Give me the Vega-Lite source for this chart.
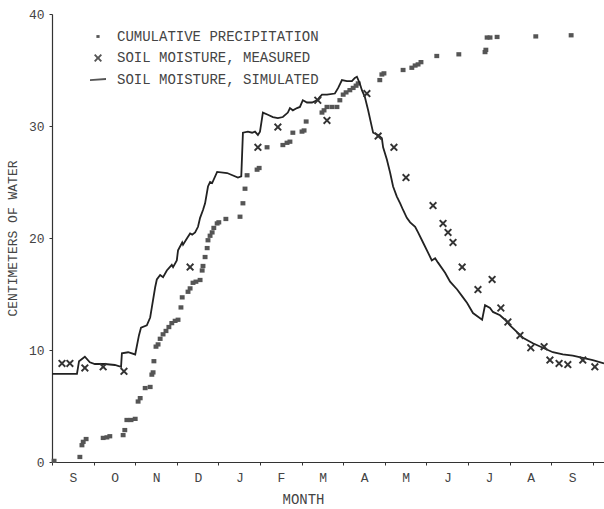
{
  "$schema": "https://vega.github.io/schema/vega-lite/v6.json",
  "width": 552,
  "height": 448,
  "autosize": {"type": "none"},
  "padding": {"left": 52, "top": 14, "right": 0, "bottom": 47},
  "background": "white",
  "config": {
    "view": {"stroke": null},
    "font": "Liberation Mono",
    "axis": {"labelFont": "Liberation Mono", "titleFont": "Liberation Mono", "labelColor": "#444", "titleColor": "#444", "titleFontWeight": "normal", "domainColor": "#333", "tickColor": "#333", "grid": false},
    "legend": {"labelFont": "Liberation Mono"}
  },
  "datasets": {
    "precip": [
      {"month": 0.05, "cm": 0.1}, {"month": 0.67, "cm": 0.45}, {"month": 0.72, "cm": 1.5}, {"month": 0.75, "cm": 1.8}, {"month": 0.82, "cm": 2.05},
      {"month": 1.23, "cm": 2.15}, {"month": 1.32, "cm": 2.2}, {"month": 1.39, "cm": 2.3}, {"month": 1.71, "cm": 2.4}, {"month": 1.75, "cm": 2.85},
      {"month": 1.8, "cm": 3.75}, {"month": 1.9, "cm": 3.75}, {"month": 2.0, "cm": 3.85}, {"month": 2.07, "cm": 5.4}, {"month": 2.12, "cm": 5.7},
      {"month": 2.24, "cm": 6.6}, {"month": 2.36, "cm": 6.7}, {"month": 2.4, "cm": 7.8}, {"month": 2.43, "cm": 8.0}, {"month": 2.45, "cm": 9.0},
      {"month": 2.5, "cm": 10.3}, {"month": 2.55, "cm": 10.5}, {"month": 2.6, "cm": 11.0}, {"month": 2.67, "cm": 11.4}, {"month": 2.74, "cm": 11.7},
      {"month": 2.81, "cm": 12.05}, {"month": 2.88, "cm": 12.4}, {"month": 2.96, "cm": 12.6}, {"month": 3.03, "cm": 12.7}, {"month": 3.1, "cm": 13.8},
      {"month": 3.13, "cm": 14.7}, {"month": 3.27, "cm": 15.2}, {"month": 3.32, "cm": 15.5}, {"month": 3.39, "cm": 16.0}, {"month": 3.46, "cm": 16.1},
      {"month": 3.56, "cm": 16.25}, {"month": 3.61, "cm": 17.1}, {"month": 3.63, "cm": 17.5}, {"month": 3.68, "cm": 18.3}, {"month": 3.73, "cm": 19.1},
      {"month": 3.75, "cm": 19.8}, {"month": 3.8, "cm": 20.2}, {"month": 3.85, "cm": 20.5}, {"month": 3.89, "cm": 20.9}, {"month": 3.97, "cm": 21.3},
      {"month": 4.01, "cm": 21.4}, {"month": 4.18, "cm": 21.7}, {"month": 4.52, "cm": 21.9}, {"month": 4.59, "cm": 23.1}, {"month": 4.64, "cm": 24.4},
      {"month": 4.69, "cm": 25.6}, {"month": 4.93, "cm": 26.1}, {"month": 4.98, "cm": 26.25}, {"month": 5.17, "cm": 28.1}, {"month": 5.55, "cm": 28.3},
      {"month": 5.65, "cm": 28.5}, {"month": 5.72, "cm": 28.6}, {"month": 5.79, "cm": 29.4}, {"month": 6.01, "cm": 29.5}, {"month": 6.06, "cm": 29.6},
      {"month": 6.11, "cm": 30.4}, {"month": 6.49, "cm": 31.2}, {"month": 6.54, "cm": 31.4}, {"month": 6.61, "cm": 31.7}, {"month": 6.73, "cm": 31.7},
      {"month": 6.85, "cm": 31.7}, {"month": 6.92, "cm": 32.3}, {"month": 7.0, "cm": 32.8}, {"month": 7.07, "cm": 33.0}, {"month": 7.16, "cm": 33.2},
      {"month": 7.24, "cm": 33.4}, {"month": 7.31, "cm": 33.6}, {"month": 7.36, "cm": 33.8}, {"month": 7.88, "cm": 34.1}, {"month": 7.93, "cm": 34.6},
      {"month": 7.98, "cm": 34.7}, {"month": 8.44, "cm": 35.0}, {"month": 8.65, "cm": 35.2}, {"month": 8.73, "cm": 35.4}, {"month": 8.8, "cm": 35.5},
      {"month": 8.87, "cm": 35.7}, {"month": 9.25, "cm": 36.25}, {"month": 9.78, "cm": 36.4}, {"month": 10.41, "cm": 36.6}, {"month": 10.43, "cm": 36.8},
      {"month": 10.46, "cm": 37.9}, {"month": 10.53, "cm": 37.9}, {"month": 10.7, "cm": 37.95}, {"month": 11.63, "cm": 38.0}, {"month": 12.48, "cm": 38.1}
    ],
    "measured": [
      {"month": 0.24, "cm": 8.8}, {"month": 0.43, "cm": 8.8}, {"month": 0.79, "cm": 8.4}, {"month": 1.23, "cm": 8.5}, {"month": 1.73, "cm": 8.1},
      {"month": 3.32, "cm": 17.4}, {"month": 4.95, "cm": 28.1}, {"month": 5.43, "cm": 29.9}, {"month": 6.39, "cm": 32.3}, {"month": 6.61, "cm": 30.5},
      {"month": 7.57, "cm": 32.9}, {"month": 7.84, "cm": 29.1}, {"month": 8.22, "cm": 28.1}, {"month": 8.51, "cm": 25.4}, {"month": 9.16, "cm": 22.9},
      {"month": 9.4, "cm": 21.3}, {"month": 9.52, "cm": 20.5}, {"month": 9.64, "cm": 19.6}, {"month": 9.86, "cm": 17.4}, {"month": 10.24, "cm": 15.4},
      {"month": 10.58, "cm": 16.3}, {"month": 10.79, "cm": 13.75}, {"month": 10.96, "cm": 12.5}, {"month": 11.25, "cm": 11.3}, {"month": 11.51, "cm": 10.2},
      {"month": 11.83, "cm": 10.3}, {"month": 11.97, "cm": 9.1}, {"month": 12.19, "cm": 8.8}, {"month": 12.4, "cm": 8.7}, {"month": 12.76, "cm": 9.1},
      {"month": 13.05, "cm": 8.5}
    ],
    "simulated": [
      {"month": 0.0, "cm": 7.86}, {"month": 0.6, "cm": 7.86}, {"month": 0.65, "cm": 9.0}, {"month": 0.79, "cm": 9.4}, {"month": 0.91, "cm": 8.9},
      {"month": 1.03, "cm": 8.75}, {"month": 1.27, "cm": 8.75}, {"month": 1.51, "cm": 8.66}, {"month": 1.66, "cm": 8.5}, {"month": 1.68, "cm": 9.7},
      {"month": 1.83, "cm": 9.8}, {"month": 2.0, "cm": 9.6}, {"month": 2.09, "cm": 11.3}, {"month": 2.14, "cm": 12.0}, {"month": 2.28, "cm": 12.2},
      {"month": 2.36, "cm": 12.9}, {"month": 2.4, "cm": 13.8}, {"month": 2.48, "cm": 15.6}, {"month": 2.52, "cm": 16.3}, {"month": 2.6, "cm": 16.7},
      {"month": 2.67, "cm": 16.5}, {"month": 2.76, "cm": 17.1}, {"month": 2.88, "cm": 17.6}, {"month": 2.91, "cm": 17.4}, {"month": 3.0, "cm": 18.0},
      {"month": 3.03, "cm": 18.9}, {"month": 3.13, "cm": 19.6}, {"month": 3.15, "cm": 19.4}, {"month": 3.25, "cm": 20.0}, {"month": 3.32, "cm": 20.4},
      {"month": 3.37, "cm": 20.3}, {"month": 3.44, "cm": 20.5}, {"month": 3.51, "cm": 21.0}, {"month": 3.56, "cm": 21.8}, {"month": 3.63, "cm": 22.5},
      {"month": 3.68, "cm": 23.1}, {"month": 3.75, "cm": 24.6}, {"month": 3.8, "cm": 25.0}, {"month": 3.85, "cm": 24.9}, {"month": 3.97, "cm": 25.9},
      {"month": 4.21, "cm": 25.8}, {"month": 4.47, "cm": 25.4}, {"month": 4.55, "cm": 25.5}, {"month": 4.59, "cm": 29.4}, {"month": 4.71, "cm": 29.5},
      {"month": 4.81, "cm": 29.4}, {"month": 4.88, "cm": 29.5}, {"month": 4.95, "cm": 29.2}, {"month": 5.0, "cm": 29.5}, {"month": 5.07, "cm": 31.2},
      {"month": 5.19, "cm": 31.0}, {"month": 5.31, "cm": 30.8}, {"month": 5.43, "cm": 30.7}, {"month": 5.55, "cm": 30.8}, {"month": 5.67, "cm": 31.2},
      {"month": 5.72, "cm": 31.6}, {"month": 5.79, "cm": 31.4}, {"month": 5.89, "cm": 31.6}, {"month": 5.96, "cm": 31.7}, {"month": 6.03, "cm": 32.3},
      {"month": 6.13, "cm": 32.1}, {"month": 6.25, "cm": 32.1}, {"month": 6.37, "cm": 32.3}, {"month": 6.44, "cm": 32.6}, {"month": 6.49, "cm": 32.8},
      {"month": 6.61, "cm": 32.8}, {"month": 6.8, "cm": 32.9}, {"month": 6.88, "cm": 33.4}, {"month": 6.97, "cm": 34.1}, {"month": 7.09, "cm": 34.0},
      {"month": 7.21, "cm": 34.0}, {"month": 7.28, "cm": 34.3}, {"month": 7.33, "cm": 34.4}, {"month": 7.4, "cm": 33.8}, {"month": 7.45, "cm": 33.2},
      {"month": 7.52, "cm": 32.6}, {"month": 7.6, "cm": 31.4}, {"month": 7.69, "cm": 29.9}, {"month": 7.72, "cm": 29.4}, {"month": 7.84, "cm": 29.2},
      {"month": 7.93, "cm": 28.9}, {"month": 7.96, "cm": 28.1}, {"month": 8.05, "cm": 27.0}, {"month": 8.13, "cm": 25.8}, {"month": 8.2, "cm": 24.6},
      {"month": 8.29, "cm": 23.7}, {"month": 8.37, "cm": 23.1}, {"month": 8.44, "cm": 22.5}, {"month": 8.53, "cm": 21.8}, {"month": 8.61, "cm": 21.4},
      {"month": 8.73, "cm": 21.0}, {"month": 8.8, "cm": 20.5}, {"month": 8.92, "cm": 19.6}, {"month": 9.04, "cm": 18.7}, {"month": 9.13, "cm": 18.0},
      {"month": 9.21, "cm": 18.2}, {"month": 9.28, "cm": 17.8}, {"month": 9.45, "cm": 16.9}, {"month": 9.57, "cm": 16.1}, {"month": 9.74, "cm": 15.4},
      {"month": 9.88, "cm": 14.7}, {"month": 9.98, "cm": 14.2}, {"month": 10.12, "cm": 13.3}, {"month": 10.34, "cm": 12.7}, {"month": 10.41, "cm": 14.0},
      {"month": 10.53, "cm": 13.75}, {"month": 10.6, "cm": 13.4}, {"month": 10.77, "cm": 13.1}, {"month": 10.89, "cm": 12.7}, {"month": 11.01, "cm": 12.2},
      {"month": 11.18, "cm": 11.6}, {"month": 11.32, "cm": 11.1}, {"month": 11.56, "cm": 10.6}, {"month": 11.8, "cm": 10.2}, {"month": 12.04, "cm": 9.8},
      {"month": 12.28, "cm": 9.6}, {"month": 12.52, "cm": 9.5}, {"month": 12.76, "cm": 9.3}, {"month": 13.0, "cm": 9.1}, {"month": 13.27, "cm": 8.8}
    ]
  },
  "encoding": {
    "x": {
      "field": "month", "type": "quantitative",
      "scale": {"domain": [0, 13.27], "nice": false, "zero": false},
      "axis": {
        "values": [0, 1, 2, 3, 4, 5, 6, 7, 8, 9, 10, 11, 12, 13],
        "labelExpr": "['S','O','N','D','J','F','M','A','M','J','J','A','S',''][datum.value]",
        "labelOffset": 21, "labelAlign": "center", "labelFontSize": 13, "labelPadding": 6,
        "tickSize": 3, "domainWidth": 1.2,
        "title": "MONTH", "titleFontSize": 14, "titleX": 251, "titleY": 30, "titleBaseline": "top"
      }
    },
    "y": {
      "field": "cm", "type": "quantitative",
      "scale": {"domain": [0, 40], "nice": false},
      "axis": {
        "values": [0, 10, 20, 30, 40], "labelFontSize": 13, "labelPadding": 5, "tickSize": 3, "domainWidth": 1.2,
        "title": "CENTIMETERS OF WATER", "titleFontSize": 13, "titleX": -33
      }
    }
  },
  "layer": [
    {
      "data": {"name": "precip"},
      "mark": {"type": "point", "filled": true, "size": 150, "color": "#555", "opacity": 1},
      "encoding": {
        "shape": {
          "datum": "CUMULATIVE PRECIPITATION", "type": "nominal",
          "scale": {
            "domain": ["CUMULATIVE PRECIPITATION", "SOIL MOISTURE, MEASURED", "SOIL MOISTURE, SIMULATED"],
            "range": [
              "M-0.4,-0.35H0.4V0.35H-0.4Z",
              "M0,-0.34L0.66,-1L1,-0.66L0.34,0L1,0.66L0.66,1L0,0.34L-0.66,1L-1,0.66L-0.34,0L-1,-0.66L-0.66,-1Z",
              "M-2,-0.05L2,-0.35V0.1L-2,0.4Z"
            ]
          },
          "legend": {
            "title": null, "orient": "none", "legendX": 39, "legendY": 15.5, "padding": 0,
            "symbolSize": 64, "labelFontSize": 14, "labelColor": "#444", "labelOffset": 12, "rowPadding": 7.5,
            "labelLimit": 400, "symbolFillColor": "#333", "symbolStrokeWidth": 0,
            "encode": {"symbols": {"update": {"fill": {"value": "#333"}, "opacity": {"value": 1}}}}
          }
        }
      }
    },
    {
      "data": {"name": "simulated"},
      "mark": {"type": "line", "color": "#222", "strokeWidth": 1.8, "interpolate": "linear"},
      "encoding": {}
    },
    {
      "data": {"name": "measured"},
      "mark": {"type": "point", "filled": true, "size": 64, "color": "#333", "opacity": 1},
      "encoding": {
        "shape": {"datum": "SOIL MOISTURE, MEASURED", "type": "nominal"}
      }
    }
  ]
}
